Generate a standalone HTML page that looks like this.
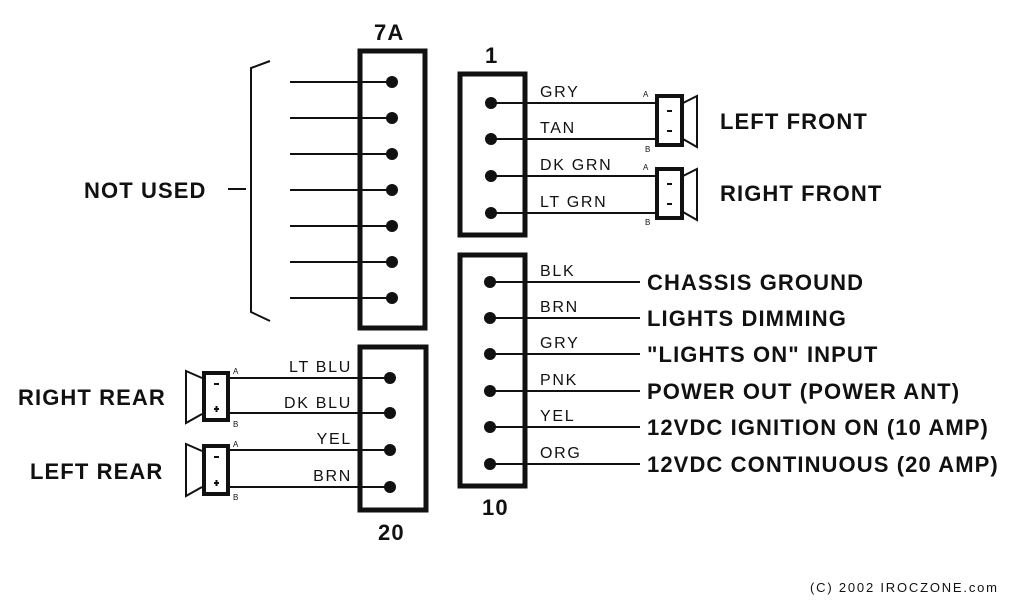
<!DOCTYPE html>
<html><head><meta charset="utf-8"><style>
html,body{margin:0;padding:0;background:#fff;width:1024px;height:600px;overflow:hidden}
svg{display:block}
text{font-family:"Liberation Sans",sans-serif;fill:#111}
.b{font-weight:bold;font-size:22px;letter-spacing:1.1px}
.w{font-size:16px;letter-spacing:1.7px}
.s{font-size:8px}
</style></head><body>
<svg width="1024" height="600" viewBox="0 0 1024 600">
<g fill="none" stroke="#111">
<rect x="360" y="51" width="65" height="277" stroke-width="5"/>
<rect x="460" y="74" width="65" height="161" stroke-width="5"/>
<rect x="460" y="255" width="65" height="231" stroke-width="5"/>
<rect x="360" y="347" width="66" height="163" stroke-width="5"/>
<path d="M270 61 L251 68 L251 312 L270 321" stroke-width="2"/>
<line x1="228" y1="189" x2="246" y2="189" stroke-width="2"/>
<g stroke-width="2">
<line x1="290" y1="82" x2="392" y2="82"/><line x1="290" y1="118" x2="392" y2="118"/>
<line x1="290" y1="154" x2="392" y2="154"/><line x1="290" y1="190" x2="392" y2="190"/>
<line x1="290" y1="226" x2="392" y2="226"/><line x1="290" y1="262" x2="392" y2="262"/>
<line x1="290" y1="298" x2="392" y2="298"/>
<line x1="491" y1="103" x2="656" y2="103"/><line x1="491" y1="139" x2="656" y2="139"/>
<line x1="491" y1="176" x2="656" y2="176"/><line x1="491" y1="213" x2="656" y2="213"/>
<line x1="490" y1="282" x2="640" y2="282"/><line x1="490" y1="318" x2="640" y2="318"/>
<line x1="490" y1="354" x2="640" y2="354"/><line x1="490" y1="391" x2="640" y2="391"/>
<line x1="490" y1="427" x2="640" y2="427"/><line x1="490" y1="464" x2="640" y2="464"/>
<line x1="229" y1="378" x2="390" y2="378"/><line x1="229" y1="413" x2="390" y2="413"/>
<line x1="229" y1="450" x2="390" y2="450"/><line x1="229" y1="487" x2="390" y2="487"/>
<path d="M683 103 L697 96 L697 147 L683 139"/>
<path d="M683 176 L697 169 L697 220 L683 212"/>
<path d="M202 378 L186 371 L186 423 L202 414"/>
<path d="M202 451 L186 444 L186 496 L202 487"/>
</g>
<g stroke-width="4">
<rect x="657" y="96" width="25" height="49"/>
<rect x="657" y="169" width="25" height="49"/>
<rect x="204" y="373" width="24" height="47"/>
<rect x="204" y="446" width="24" height="48"/>
</g>
</g>
<g fill="#111">
<circle cx="392" cy="82" r="6"/><circle cx="392" cy="118" r="6"/><circle cx="392" cy="154" r="6"/>
<circle cx="392" cy="190" r="6"/><circle cx="392" cy="226" r="6"/><circle cx="392" cy="262" r="6"/>
<circle cx="392" cy="298" r="6"/>
<circle cx="491" cy="103" r="6"/><circle cx="491" cy="139" r="6"/><circle cx="491" cy="176" r="6"/><circle cx="491" cy="213" r="6"/>
<circle cx="490" cy="282" r="6"/><circle cx="490" cy="318" r="6"/><circle cx="490" cy="354" r="6"/>
<circle cx="490" cy="391" r="6"/><circle cx="490" cy="427" r="6"/><circle cx="490" cy="464" r="6"/>
<circle cx="390" cy="378" r="6"/><circle cx="390" cy="413" r="6"/><circle cx="390" cy="450" r="6"/><circle cx="390" cy="487" r="6"/>
<rect x="667" y="110" width="5" height="2"/><rect x="667" y="130" width="5" height="2"/>
<rect x="667" y="183" width="5" height="2"/><rect x="667" y="203" width="5" height="2"/>
<rect x="214" y="383" width="5" height="2"/><rect x="214" y="408" width="5" height="2"/><rect x="215.5" y="406" width="2" height="6"/>
<rect x="214" y="456" width="5" height="2"/><rect x="214" y="482" width="5" height="2"/><rect x="215.5" y="480" width="2" height="6"/>
</g>
<text class="b" x="374" y="40">7A</text>
<text class="b" x="485" y="63">1</text>
<text class="b" x="482" y="515">10</text>
<text class="b" x="378" y="540">20</text>
<text class="b" x="84" y="198">NOT USED</text>
<text class="b" x="720" y="129">LEFT FRONT</text>
<text class="b" x="720" y="201">RIGHT FRONT</text>
<text class="b" x="18" y="405">RIGHT REAR</text>
<text class="b" x="30" y="479">LEFT REAR</text>
<text class="b" x="647" y="290">CHASSIS GROUND</text>
<text class="b" x="647" y="326">LIGHTS DIMMING</text>
<text class="b" x="647" y="362">"LIGHTS ON" INPUT</text>
<text class="b" x="647" y="399">POWER OUT (POWER ANT)</text>
<text class="b" x="647" y="435">12VDC IGNITION ON (10 AMP)</text>
<text class="b" x="647" y="472">12VDC CONTINUOUS (20 AMP)</text>
<text class="w" x="540" y="97">GRY</text>
<text class="w" x="540" y="133">TAN</text>
<text class="w" x="540" y="170">DK GRN</text>
<text class="w" x="540" y="207">LT GRN</text>
<text class="w" x="540" y="276">BLK</text>
<text class="w" x="540" y="312">BRN</text>
<text class="w" x="540" y="348">GRY</text>
<text class="w" x="540" y="385">PNK</text>
<text class="w" x="540" y="421">YEL</text>
<text class="w" x="540" y="458">ORG</text>
<text class="w" x="352" y="372" text-anchor="end">LT BLU</text>
<text class="w" x="352" y="408" text-anchor="end">DK BLU</text>
<text class="w" x="352" y="444" text-anchor="end">YEL</text>
<text class="w" x="352" y="481" text-anchor="end">BRN</text>
<text class="s" x="643" y="97">A</text><text class="s" x="645" y="152">B</text>
<text class="s" x="643" y="170">A</text><text class="s" x="645" y="225">B</text>
<text class="s" x="233" y="374">A</text><text class="s" x="233" y="427">B</text>
<text class="s" x="233" y="447">A</text><text class="s" x="233" y="500">B</text>
<text x="810" y="592" style="font-size:13px;letter-spacing:1.8px">(C) 2002 IROCZONE.com</text>
</svg>
</body></html>
